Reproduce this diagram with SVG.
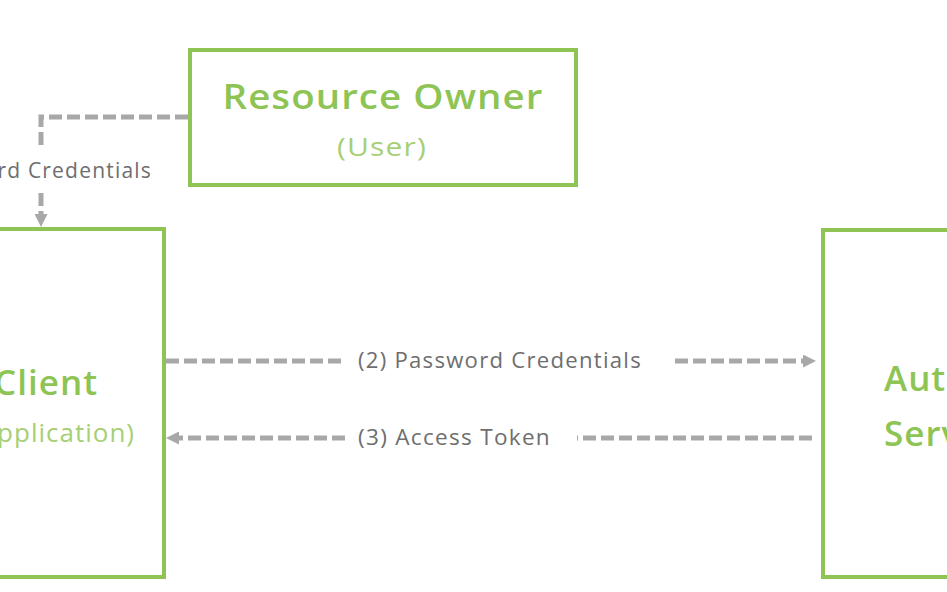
<svg xmlns="http://www.w3.org/2000/svg" width="947" height="592" viewBox="0 0 947 592">
<defs>
<style>
.box{fill:#fff;stroke:#8fc454;stroke-width:4}
.title{font-family:"Open Sans","Liberation Sans",sans-serif;font-size:35px;fill:#8dc453;font-weight:600;letter-spacing:1px}
.sub{font-family:"Open Sans","Liberation Sans",sans-serif;font-size:26px;fill:#a6cf76;font-weight:400;letter-spacing:1px}
.lbl{font-family:"Open Sans","Liberation Sans",sans-serif;font-size:21px;fill:#6e6e6e;letter-spacing:1.2px}
.con{fill:none;stroke:#a8a8a8;stroke-width:5;stroke-dasharray:13 5}
</style>
<marker id="ah" viewBox="0 0 10 10" refX="0" refY="5" markerWidth="13" markerHeight="13" markerUnits="userSpaceOnUse" orient="auto">
<path d="M0 0L10 5L0 10z" fill="#a8a8a8"/>
</marker>
</defs>
<rect width="947" height="592" fill="#fff"/>
<g id="resource-owner">
<rect class="box" x="190" y="50" width="386" height="135"/>
<text class="title" x="383" y="109" text-anchor="middle" textLength="321" lengthAdjust="spacingAndGlyphs">Resource Owner</text>
<text class="sub" x="382" y="156" text-anchor="middle" textLength="90" lengthAdjust="spacingAndGlyphs">(User)</text>
</g>
<g id="client">
<rect class="box" x="-80" y="229" width="244" height="348"/>
<text class="title" x="98" y="395" text-anchor="end">Client</text>
<text class="sub" x="135" y="442" text-anchor="end">(Application)</text>
</g>
<g id="auth-server">
<rect class="box" x="823" y="230" width="200" height="347"/>
<text class="title" x="884" y="391">Authorization</text>
<text class="title" x="884" y="446">Server</text>
</g>
<g id="connectors">
<path class="con" d="M188 117H41V150"/>
<path class="con" d="M41 193V214" marker-end="url(#ah)"/>
<text class="lbl" x="152" y="178" text-anchor="end">(1) Password Credentials</text>
<path class="con" d="M166 361H345"/>
<text class="lbl" x="358" y="368" textLength="284" lengthAdjust="spacingAndGlyphs">(2) Password Credentials</text>
<path class="con" d="M675 361H803" marker-end="url(#ah)"/>
<path class="con" d="M812 438H577"/>
<text class="lbl" x="358" y="445" textLength="193" lengthAdjust="spacingAndGlyphs">(3) Access Token</text>
<path class="con" d="M345 438H179" marker-end="url(#ah)"/>
</g>
</svg>
